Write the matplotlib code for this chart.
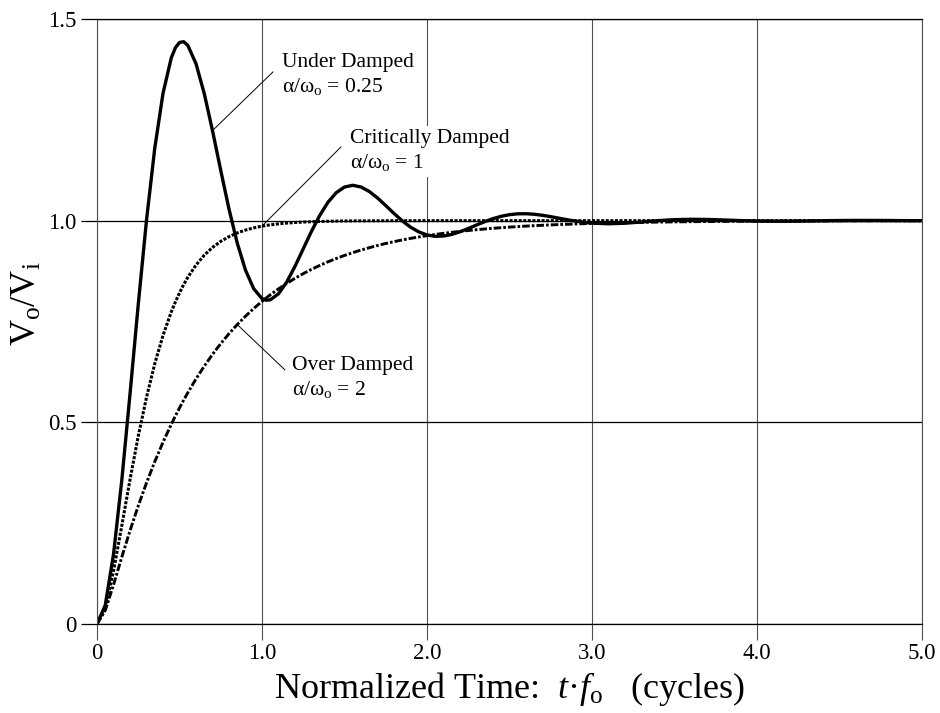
import matplotlib
matplotlib.use("Agg")
import matplotlib.pyplot as plt

plt.rcParams.update({
    "font.family": "Liberation Serif",
    "mathtext.fontset": "custom",
    "mathtext.rm": "Liberation Serif",
    "mathtext.it": "Liberation Serif:italic",
})

# normalized time t*fo (cycles)
t_cycles = [0.0, 0.05, 0.1, 0.15, 0.2, 0.25, 0.3, 0.35, 0.4, 0.45,
            0.475, 0.5, 0.525,
            0.55, 0.6, 0.65, 0.7, 0.75, 0.8, 0.85, 0.9, 0.95, 1.0,
            1.025,
            1.05, 1.1, 1.15, 1.2, 1.25, 1.3, 1.35, 1.4, 1.45, 1.5,
            1.55, 1.6, 1.65, 1.7, 1.75, 1.8, 1.85, 1.9, 1.95, 2.0,
            2.05, 2.1, 2.15, 2.2, 2.25, 2.3, 2.35, 2.4, 2.45, 2.5,
            2.55, 2.6, 2.65, 2.7, 2.75, 2.8, 2.85, 2.9, 2.95, 3.0,
            3.1, 3.2, 3.3, 3.4, 3.5, 3.6, 3.7, 3.8, 3.9, 4.0,
            4.1, 4.2, 4.3, 4.4, 4.5, 4.6, 4.7, 4.8, 4.9, 5.0]

# Vo/Vi step response, alpha/wo = 0.25
under = [0.0, 0.0465, 0.1726, 0.3553, 0.5699, 0.7922, 1.0010, 1.1795, 1.3156, 1.4034,
         1.4287, 1.4419, 1.4437,
         1.4348, 1.3893, 1.3152, 1.2233, 1.1245, 1.0288, 0.9444, 0.8773, 0.8311, 0.8069,
         0.8028,
         0.8037, 0.8187, 0.8480, 0.8868, 0.9302, 0.9737, 1.0131, 1.0457, 1.0694, 1.0834,
         1.0877, 1.0835, 1.0724, 1.0563, 1.0374, 1.0179, 0.9996, 0.9840, 0.9722, 0.9645,
         0.9612, 0.9619, 0.9659, 0.9725, 0.9805, 0.9892, 0.9976, 1.0050, 1.0108, 1.0149,
         1.0170, 1.0172, 1.0159, 1.0133, 1.0099, 1.0061, 1.0023, 0.9988, 0.9960, 0.9939,
         0.9923, 0.9937, 0.9967, 1.0001, 1.0025, 1.0034, 1.0030, 1.0017, 1.0002, 0.9990,
         0.9985, 0.9986, 0.9991, 0.9998, 1.0004, 1.0006, 1.0006, 1.0004, 1.0001, 0.9999]

# alpha/wo = 1
critical = [0.0, 0.0401, 0.1313, 0.2431, 0.3578, 0.4656, 0.5620, 0.6452, 0.7154, 0.7736,
            0.7985, 0.8210, 0.8413,
            0.8594, 0.8900, 0.9144, 0.9336, 0.9487, 0.9604, 0.9696, 0.9767, 0.9822, 0.9864,
            0.9881,
            0.9896, 0.9921, 0.9940, 0.9955, 0.9966, 0.9974, 0.9980, 0.9985, 0.9989, 0.9992,
            0.9994, 0.9995, 0.9996, 0.9997, 0.9998, 0.9998, 0.9999, 0.9999, 0.9999, 1.0,
            1.0, 1.0, 1.0, 1.0, 1.0, 1.0, 1.0, 1.0, 1.0, 1.0,
            1.0, 1.0, 1.0, 1.0, 1.0, 1.0, 1.0, 1.0, 1.0, 1.0,
            1.0, 1.0, 1.0, 1.0, 1.0, 1.0, 1.0, 1.0, 1.0, 1.0,
            1.0, 1.0, 1.0, 1.0, 1.0, 1.0, 1.0, 1.0, 1.0, 1.0]

# alpha/wo = 2
over = [0.0, 0.0336, 0.0970, 0.1654, 0.2314, 0.2930, 0.3499, 0.4024, 0.4506, 0.4950,
        0.5158, 0.5357, 0.5549,
        0.5732, 0.6077, 0.6393, 0.6684, 0.6952, 0.7198, 0.7424, 0.7632, 0.7823, 0.7999,
        0.8082,
        0.8161, 0.8309, 0.8446, 0.8571, 0.8687, 0.8793, 0.8890, 0.8980, 0.9062, 0.9138,
        0.9207, 0.9271, 0.9330, 0.9384, 0.9434, 0.9480, 0.9522, 0.9560, 0.9596, 0.9628,
        0.9658, 0.9686, 0.9711, 0.9735, 0.9756, 0.9776, 0.9794, 0.9811, 0.9826, 0.9840,
        0.9853, 0.9865, 0.9876, 0.9886, 0.9895, 0.9903, 0.9911, 0.9918, 0.9925, 0.9931,
        0.9942, 0.9951, 0.9958, 0.9965, 0.9970, 0.9975, 0.9979, 0.9982, 0.9985, 0.9987,
        0.9989, 0.9991, 0.9992, 0.9993, 0.9994, 0.9995, 0.9996, 0.9997, 0.9997, 0.9998]

x_ticks = [0, 1, 2, 3, 4, 5]
x_ticklabels = ["0", "1.0", "2.0", "3.0", "4.0", "5.0"]
y_ticks = [0, 0.5, 1.0, 1.5]
y_ticklabels = ["0", "0.5", "1.0", "1.5"]

labels = {
    "under": "Under Damped\nα/ω$_\\mathrm{o}$ = 0.25",
    "critical": "Critically Damped\nα/ω$_\\mathrm{o}$ = 1",
    "over": "Over Damped\nα/ω$_\\mathrm{o}$ = 2",
}

fig = plt.figure(figsize=(9.4, 7.13), dpi=100)
ax = fig.add_axes([97 / 940, 89 / 713, 825 / 940, 605 / 713])

ax.plot(t_cycles, over, color="black", lw=2.1, ls=(0, (2.6, 0.7, 0.9, 0.7)))
ax.plot(t_cycles, critical, color="black", lw=2.2, ls=(0, (1, 0.5)))
ax.plot(t_cycles, under, color="black", lw=2.4, solid_joinstyle="round")

ax.set_xlim(0, 5)
ax.set_ylim(0, 1.5)
ax.set_xticks(x_ticks)
ax.set_xticklabels(x_ticklabels)
ax.set_yticks(y_ticks)
ax.set_yticklabels(y_ticklabels)

# vertical grid gray, horizontal grid black
grey = "#505050"
ax.set_axisbelow(True)
ax.grid(axis="x", color=grey, lw=0.8)
ax.grid(axis="y", color="black", lw=0.9)
ax.spines["left"].set_color(grey)
ax.spines["right"].set_color(grey)
for s in ("left", "right"):
    ax.spines[s].set_linewidth(0.8)
for s in ("top", "bottom"):
    ax.spines[s].set_linewidth(0.9)

ax.tick_params(axis="x", direction="out", length=11.5, width=0.8, color=grey,
               pad=2.5, labelsize=16.5)
ax.tick_params(axis="y", direction="out", length=11.5, width=0.9, color="black",
               pad=3, labelsize=16.5)

ax.set_xlabel("Normalized Time:  $t$·$f_\\mathrm{o}$   (cycles)", fontsize=26, labelpad=4)
fig.text(27 / 940, 1 - 304 / 713, "V$_\\mathrm{o}$/V$_\\mathrm{i}$", rotation=90,
         ha="center", va="center", fontsize=26)

# callouts: text box plus a thin leader to the curve
box = dict(boxstyle="square,pad=0.15", fc="white", ec="none")
callouts = [
    ("under", under, 16, (1.121, 1.362), (1.067, 1.369)),
    ("critical", critical, 22, (1.533, 1.172), (1.479, 1.183)),
    ("over", over, 19, (1.182, 0.610), (1.139, 0.630)),
]
for key, series, i, text_xy, lead_xy in callouts:
    ax.annotate("", xy=(t_cycles[i], series[i]), xytext=lead_xy,
                arrowprops=dict(arrowstyle="-", color="black", lw=0.7,
                                shrinkA=0, shrinkB=0))
    ax.text(*text_xy, labels[key], ha="left", va="center", fontsize=15.5,
            linespacing=1.25, bbox=box)

fig.savefig("out.png", dpi=100)
